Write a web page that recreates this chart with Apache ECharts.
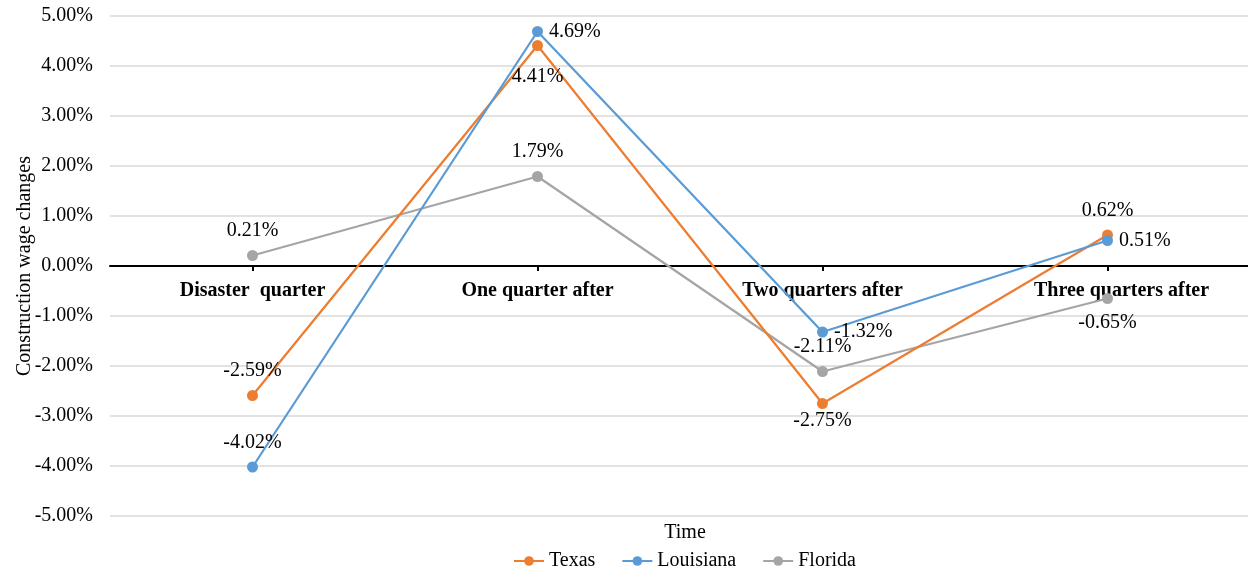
<!DOCTYPE html>
<html>
<head>
<meta charset="utf-8">
<script src="https://cdn.jsdelivr.net/npm/echarts@6/dist/echarts.min.js"></script>
<style>html,body{margin:0;padding:0;background:#fff}#c{width:1248px;height:571px}</style>
</head>
<body>
<div id="c"></div>
<script>
const categories = ['Disaster  quarter', 'One quarter after', 'Two quarters after', 'Three quarters after'];
const texas = [-2.59, 4.41, -2.75, 0.62];
const louisiana = [-4.02, 4.69, -1.32, 0.51];
const florida = [0.21, 1.79, -2.11, -0.65];
const seriesNames = ['Texas', 'Louisiana', 'Florida'];
const yTicks = { min: -5, max: 5, interval: 1 };

// label placement (style only)
const texasPos = ['top', 'bottom', 'bottom', 'top'];
const texasDist = [9, 16, 2, 9];
const louisianaPos = ['top', 'right', 'right', 'right'];
const louisianaDist = [9, 6, 6, 6];
const floridaPos = ['top', 'top', 'top', 'bottom'];
const floridaDist = [9, 9, 9, 9];

const FONT = '"Liberation Serif", "Times New Roman", serif';
const colors = ['#ED7D31', '#5B9BD5', '#A5A5A5'];

function mk(name, vals, pos, dist, color, z) {
  return {
    name: name, type: 'line', data: vals.map((v, i) => ({
      value: v,
      label: { position: pos[i], distance: dist[i] }
    })),
    symbol: 'circle', symbolSize: 11, z: z,
    lineStyle: { color: color, width: 2.25 },
    itemStyle: { color: color },
    label: { show: true, color: '#000', fontFamily: FONT, fontSize: 20,
      formatter: p => p.value.toFixed(2) + '%' }
  };
}

const labelRich = {
  n: { fontFamily: FONT, fontSize: 20, fontWeight: 'bold', color: '#000' },
  s: { fontFamily: FONT, fontSize: 20, fontWeight: 'bold', color: '#000', padding: [0, 0, 0, 28] }
};

const chart = echarts.init(document.getElementById('c'));
chart.setOption({
  animation: false,
  color: colors,
  title: {
    text: 'Time', left: 680, top: 518, textAlign: 'center',
    textStyle: { fontFamily: FONT, fontSize: 20, fontWeight: 'normal', color: '#000' }
  },
  grid: { left: 110, right: -2, top: 16, bottom: 55, containLabel: false, outerBoundsMode: 'none' },
  legend: {
    top: 546, left: 508, itemWidth: 30, itemHeight: 12, itemGap: 26,
    textStyle: { fontFamily: FONT, fontSize: 20, color: '#000' },
    data: seriesNames
  },
  xAxis: {
    type: 'category', data: categories, boundaryGap: true,
    axisLine: { onZero: true, lineStyle: { color: '#000', width: 2 } },
    axisTick: { show: true, alignWithLabel: true, length: 5, inside: false, lineStyle: { color: '#000', width: 2 } },
    axisLabel: { fontFamily: FONT, fontSize: 20, fontWeight: 'bold', color: '#000', margin: -235,
      formatter: (v, i) => (i === categories.length - 1 ? '{s|' + v + '}' : '{n|' + v + '}'),
      rich: labelRich },
    splitLine: { show: false }
  },
  yAxis: {
    type: 'value', min: yTicks.min, max: yTicks.max, interval: yTicks.interval,
    name: 'Construction wage changes', nameLocation: 'middle', nameGap: 75, nameRotate: 90,
    nameMoveOverlap: false,
    nameTextStyle: { fontFamily: FONT, fontSize: 20, color: '#000' },
    axisLine: { show: false }, axisTick: { show: false },
    axisLabel: { fontFamily: FONT, fontSize: 20, color: '#000', margin: 17,
      formatter: v => v.toFixed(2) + '%' },
    splitLine: { lineStyle: { color: '#D9D9D9', width: 1.5 } }
  },
  series: [
    mk('Texas', texas, texasPos, texasDist, colors[0], 2),
    mk('Louisiana', louisiana, louisianaPos, louisianaDist, colors[1], 3),
    mk('Florida', florida, floridaPos, floridaDist, colors[2], 1)
  ]
});
</script>
</body>
</html>
